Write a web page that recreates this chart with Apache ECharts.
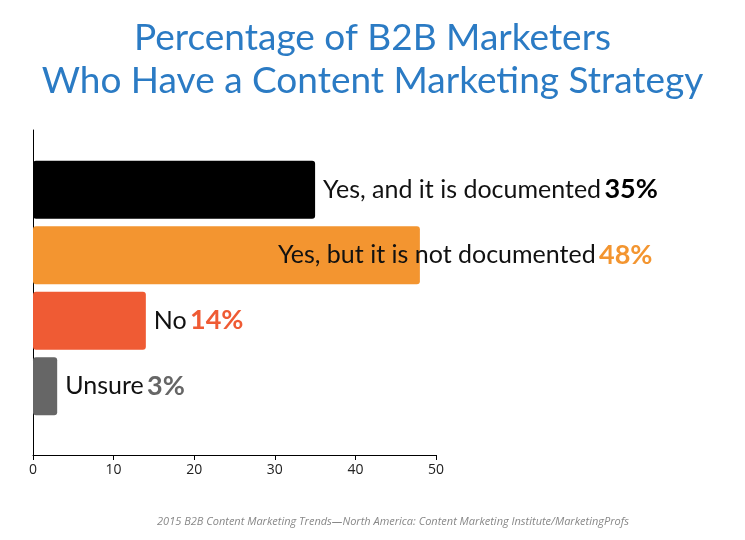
<!DOCTYPE html>
<html>
<head>
<meta charset="utf-8">
<script src="https://cdn.jsdelivr.net/npm/echarts@6/dist/echarts.min.js"></script>
<style>html,body{margin:0;background:#fff}#main{width:745px;height:540px}</style>
</head>
<body>
<div id="main"></div>
<script>
// data
var categories = ['Yes, and it is documented', 'Yes, but it is not documented', 'No', 'Unsure'];
var values = [35, 48, 14, 3];
var barColors = ['#000000', '#f39530', '#ef5b34', '#666666'];
var xTicks = [0, 10, 20, 30, 40, 50];

var chart = echarts.init(document.getElementById('main'));

var barData = values.map(function (v, i) {
    var lbl = {};
    if (i === 1) lbl = {offset: [-150, 0]};   // orange label starts inside the bar
    return {
        value: v,
        itemStyle: {color: barColors[i]},
        label: lbl
    };
});

var option = {
    title: [{
        text: 'Percentage of B2B Marketers\nWho Have a Content Marketing Strategy',
        left: 'center', top: 12,
        textStyle: {fontFamily: 'Lato', fontWeight: 'normal', fontSize: 37, lineHeight: 43, color: '#2b7bc4'}
    }, {
        text: '2015 B2B Content Marketing Trends\u2014North America: Content Marketing Institute/MarketingProfs',
        left: 388, top: 511, textAlign: 'center',
        textStyle: {fontFamily: 'Open Sans', fontStyle: 'italic', fontWeight: 'normal', fontSize: 11, color: '#888'}
    }],
    grid: [
        {left: 33, top: 130, width: 403, height: 325},
        {left: 33, top: 157, width: 403, height: 262}
    ],
    xAxis: [{
        gridIndex: 0, type: 'value', min: 0, max: 50, interval: 10,
        splitLine: {show: false},
        axisLine: {show: true, lineStyle: {color: '#000'}},
        axisTick: {show: true, length: 5, lineStyle: {color: '#000'}},
        axisLabel: {fontFamily: 'Open Sans', fontSize: 14, color: '#222',
            formatter: function (v) { return xTicks.indexOf(v) >= 0 ? v : ''; }}
    }, {
        gridIndex: 1, type: 'value', min: 0, max: 50, show: false
    }],
    yAxis: [{
        gridIndex: 0, type: 'category', data: [''],
        axisLine: {show: true, lineStyle: {color: '#000'}},
        axisTick: {show: false}, axisLabel: {show: false}
    }, {
        gridIndex: 1, type: 'category', data: categories, inverse: true, show: false
    }],
    series: [{
        type: 'bar', xAxisIndex: 1, yAxisIndex: 1,
        barWidth: 58,
        itemStyle: {borderRadius: 3},
        data: barData,
        label: {
            show: true, position: 'right', distance: 8,
            formatter: function (p) {
                var k = ['a', 'b', 'c', 'd'][p.dataIndex];
                return '{t|' + p.name + '} {' + k + '|' + p.value + '%}';
            },
            rich: {
                t: {fontFamily: 'Lato', fontSize: 25, color: '#111'},
                a: {fontFamily: 'Lato', fontSize: 27, fontWeight: 'bold', color: '#000'},
                b: {fontFamily: 'Lato', fontSize: 27, fontWeight: 'bold', color: '#f39530'},
                c: {fontFamily: 'Lato', fontSize: 27, fontWeight: 'bold', color: '#ef5b34'},
                d: {fontFamily: 'Lato', fontSize: 27, fontWeight: 'bold', color: '#666'}
            }
        }
    }]
};
chart.setOption(option);
</script>
</body>
</html>
